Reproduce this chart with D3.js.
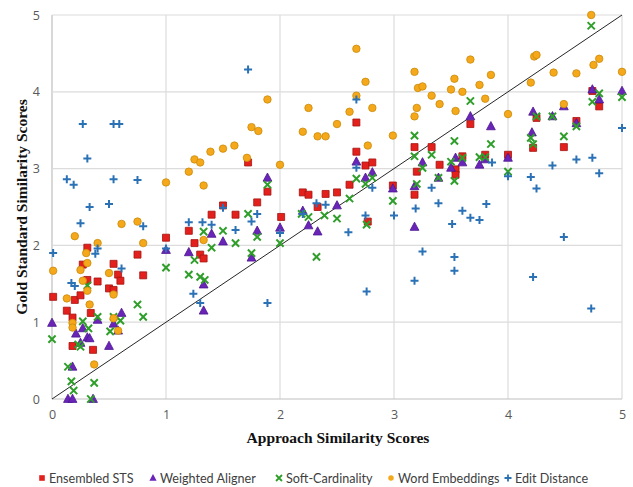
<!DOCTYPE html>
<html>
<head>
<meta charset="utf-8">
<script src="https://cdn.jsdelivr.net/npm/d3@7"></script>
<style>
  body { margin: 0; background: #fff; }
  svg { display: block; }
</style>
</head>
<body>
<script>
"use strict";

// Data: [approach score, gold score].
var ensembledSTS = [
  [0.01,1.33],[0.13,1.15],[0.18,1.06],[0.20,1.29],[0.25,1.35],[0.27,1.75],[0.31,1.97],[0.31,1.55],
  [0.34,1.12],[0.40,1.53],[0.54,1.76],[0.58,1.62],[0.60,1.54],[0.50,1.44],[0.54,1.42],[0.75,1.88],
  [0.80,1.61],[0.18,0.69],[0.36,0.64],[1.00,2.10],[1.20,2.19],[1.25,2.03],[1.30,1.88],[1.33,1.83],
  [1.40,2.40],[1.50,2.52],[1.61,2.40],[1.80,2.56],[1.89,2.70],[1.72,3.08],[2.01,2.37],[2.20,2.69],
  [2.25,2.66],[2.40,2.67],[2.50,2.69],[2.61,2.79],[2.67,3.60],[2.67,3.22],[2.75,3.04],[2.81,3.08],
  [2.99,2.78],[3.18,3.28],[3.20,2.96],[3.18,2.66],[2.33,2.50],[2.77,2.31],[3.33,3.28],[3.40,3.05],
  [3.54,2.99],[3.54,2.92],[3.60,3.16],[3.67,3.58],[3.80,3.18],[4.00,3.18],[4.22,3.27],[4.25,3.66],
  [4.49,3.28],[4.60,3.62],[4.80,3.81],[4.74,4.01]
];
var weightedAligner = [
  [0.00,0.99],[0.14,0.00],[0.18,0.00],[0.36,0.00],[0.18,0.42],[0.21,0.85],[0.27,0.92],[0.25,0.73],
  [0.31,0.80],[0.33,0.79],[0.40,1.03],[0.50,0.69],[0.54,0.98],[0.58,0.89],[0.61,1.12],[1.00,1.94],
  [1.20,1.91],[1.33,1.15],[1.33,1.49],[1.40,2.15],[1.50,2.05],[1.80,2.19],[1.75,1.84],[2.00,2.23],
  [2.20,2.45],[2.25,2.26],[2.33,2.18],[2.50,2.52],[3.18,2.24],[1.89,2.88],[2.67,3.09],[2.75,2.88],
  [2.81,2.95],[2.99,2.74],[3.18,2.77],[3.25,3.08],[3.39,2.88],[3.50,3.01],[3.54,3.14],[3.67,3.68],
  [3.85,3.55],[3.60,3.08],[3.75,3.05],[3.80,3.12],[4.00,3.14],[4.21,3.47],[4.22,3.74],[4.39,3.68],
  [4.49,3.81],[4.60,3.59],[4.74,4.03],[4.80,3.90],[5.00,4.01]
];
var softCardinality = [
  [0.00,0.78],[0.14,0.42],[0.17,0.23],[0.19,0.11],[0.34,0.00],[0.37,0.21],[0.27,1.01],[0.32,0.92],
  [0.23,0.71],[0.25,0.68],[0.40,1.07],[0.54,1.07],[0.51,0.88],[0.60,1.02],[0.75,1.23],[0.80,1.07],
  [0.31,1.48],[1.00,1.71],[1.20,1.62],[1.25,1.81],[1.30,1.59],[1.34,1.55],[1.33,2.18],[1.40,1.97],
  [1.50,2.19],[1.61,2.03],[1.72,2.41],[1.75,1.90],[1.80,2.11],[2.00,2.03],[2.19,2.41],[2.25,2.37],
  [2.39,2.39],[2.50,2.35],[2.32,1.85],[2.76,2.27],[2.99,2.58],[1.89,2.79],[2.61,2.61],[2.67,2.87],
  [2.75,2.80],[2.81,2.88],[3.18,3.43],[3.18,3.16],[3.33,3.18],[3.20,2.80],[3.25,3.01],[3.39,2.88],
  [3.50,3.09],[3.53,3.36],[3.53,2.84],[3.67,3.88],[3.85,3.32],[3.60,3.14],[3.75,3.15],[3.80,3.15],
  [4.00,2.96],[4.20,3.40],[4.22,3.32],[4.25,3.68],[4.39,3.68],[4.49,3.42],[4.60,3.55],[4.73,4.86],
  [4.80,3.98],[4.74,3.87],[5.00,3.93]
];
var wordEmbeddings = [
  [0.01,1.67],[0.20,2.12],[0.40,2.03],[0.61,2.28],[0.75,2.31],[0.80,2.03],[0.25,1.68],[0.31,1.77],
  [0.27,1.54],[0.31,1.41],[0.13,1.31],[0.33,1.23],[0.50,1.64],[0.54,1.36],[0.54,1.05],[0.58,0.89],
  [0.18,0.99],[0.18,0.93],[0.37,0.45],[1.33,2.07],[0.30,1.90],[1.00,2.82],[1.20,2.96],[1.25,3.12],
  [1.30,3.08],[1.39,3.22],[1.33,2.78],[2.67,4.56],[3.18,4.26],[2.75,4.13],[2.67,3.95],[3.21,4.05],
  [1.89,3.90],[2.25,3.79],[2.81,3.79],[2.61,3.74],[3.20,3.79],[3.18,3.68],[2.50,3.58],[1.75,3.54],
  [1.81,3.49],[2.20,3.48],[2.33,3.42],[2.40,3.42],[2.99,3.43],[2.77,3.30],[1.60,3.30],[1.50,3.26],
  [1.71,3.14],[2.00,3.05],[4.73,5.00],[3.67,4.42],[4.23,4.46],[4.25,4.48],[4.80,4.43],[4.75,4.35],
  [3.85,4.22],[3.53,4.17],[3.25,4.07],[3.75,4.09],[3.50,4.03],[3.60,4.00],[4.20,4.12],[4.40,4.25],
  [4.60,4.24],[5.00,4.26],[3.33,3.95],[3.80,3.91],[3.40,3.84],[3.54,3.75],[4.00,3.71],[4.49,3.84]
];
var editDistance = [
  [0.27,3.58],[0.54,3.58],[0.59,3.58],[0.31,3.13],[0.13,2.86],[0.19,2.79],[0.54,2.86],[0.75,2.85],
  [0.33,2.50],[0.50,2.54],[0.01,1.90],[0.25,2.29],[0.80,2.25],[0.17,1.51],[0.20,1.47],[0.38,1.89],
  [0.40,1.96],[0.61,1.70],[1.00,1.96],[1.20,2.30],[1.32,2.30],[1.40,2.27],[1.61,2.20],[1.80,2.41],
  [1.75,2.31],[2.00,2.16],[2.20,2.41],[1.24,1.37],[1.30,1.25],[1.89,1.25],[1.72,4.29],[2.67,3.90],
  [2.67,3.01],[2.32,2.55],[2.40,2.53],[2.81,2.75],[1.50,2.49],[2.75,2.39],[2.60,2.17],[3.00,2.39],
  [3.19,2.48],[2.76,1.40],[3.18,1.54],[3.33,2.75],[3.39,2.55],[3.51,2.28],[3.25,1.92],[3.53,1.85],
  [3.53,1.67],[3.86,3.08],[4.00,2.90],[4.20,2.89],[4.25,2.74],[4.39,3.04],[4.60,3.12],[4.74,3.14],
  [4.80,2.94],[5.00,3.53],[3.60,2.45],[3.67,2.36],[3.75,2.33],[3.81,2.54],[4.49,2.11],[4.22,1.59],
  [4.73,1.18]
];

var tickValues = [0, 1, 2, 3, 4, 5];
var xTitle = "Approach Similarity Scores";
var yTitle = "Gold Standard Similarity Scores";

// Series drawn in legend order (later ones sit on top).
var series = [
  {name: "Ensembled STS",    data: ensembledSTS,    shape: "square",   fill: "#e3201b", stroke: "#a51410"},
  {name: "Weighted Aligner", data: weightedAligner, shape: "triangle", fill: "#6a25b8", stroke: "#4b1590"},
  {name: "Soft-Cardinality", data: softCardinality, shape: "times",    fill: "none",    stroke: "#2f9e2a"},
  {name: "Word Embeddings",  data: wordEmbeddings,  shape: "circle",   fill: "#f5a819", stroke: "#c98a0c"},
  {name: "Edit Distance",    data: editDistance,    shape: "plus",     fill: "none",    stroke: "#2a72b5"}
];

var width = 633, height = 487;
var plot = {left: 52, right: 622, top: 15, bottom: 399};

var x = d3.scaleLinear().domain([0, 5]).range([plot.left, plot.right]);
var y = d3.scaleLinear().domain([0, 5]).range([plot.bottom, plot.top]);

var svg = d3.select("body").append("svg")
  .attr("width", width)
  .attr("height", height);

// Grid lines.
svg.append("g")
  .selectAll("line.vgrid")
  .data(tickValues)
  .enter().append("line")
  .attr("x1", function(d) { return x(d); })
  .attr("x2", function(d) { return x(d); })
  .attr("y1", y(0))
  .attr("y2", y(5))
  .attr("stroke", function(d) { return d === 0 ? "#bfbfbf" : "#dcdcdc"; })
  .attr("stroke-width", 1.2);

svg.append("g")
  .selectAll("line.hgrid")
  .data(tickValues)
  .enter().append("line")
  .attr("x1", x(0))
  .attr("x2", x(5))
  .attr("y1", function(d) { return y(d); })
  .attr("y2", function(d) { return y(d); })
  .attr("stroke", function(d) { return d === 0 ? "#bfbfbf" : "#dcdcdc"; })
  .attr("stroke-width", 1.2);

// Axes with labels only (grid already drawn).
var xAxis = svg.append("g")
  .attr("transform", "translate(0," + (plot.bottom + 8) + ")")
  .call(d3.axisBottom(x).tickValues(tickValues).tickSize(0).tickPadding(3).tickFormat(d3.format("d")));
var yAxis = svg.append("g")
  .attr("transform", "translate(" + (plot.left - 9) + ",0)")
  .call(d3.axisLeft(y).tickValues(tickValues).tickSize(0).tickPadding(3).tickFormat(d3.format("d")));
[xAxis, yAxis].forEach(function(ax) {
  ax.select(".domain").remove();
  ax.selectAll("text")
    .attr("fill", "#595959")
    .style("font-family", "'Open Sans', 'DejaVu Sans', sans-serif")
    .style("font-size", "12.5px");
});

// y = x reference line.
svg.append("line")
  .attr("x1", x(0)).attr("y1", y(0))
  .attr("x2", x(5)).attr("y2", y(5))
  .attr("stroke", "#262626")
  .attr("stroke-width", 1);

// Marker paths, centred at 0,0.
function markerPath(shape) {
  switch (shape) {
    case "square":   return "M-3.5,-3.5H3.5V3.5H-3.5Z";
    case "triangle": return "M0,-4.8L4.4,3.4H-4.4Z";
    case "times":    return "M-3.6,-3.6L3.6,3.6M-3.6,3.6L3.6,-3.6";
    case "plus":     return "M-4,0H4M0,-4V4";
    default:         return d3.symbol().type(d3.symbolCircle).size(44)();
  }
}

series.forEach(function(s) {
  svg.append("g")
    .selectAll("path")
    .data(s.data)
    .enter().append("path")
    .attr("transform", function(d) { return "translate(" + x(d[0]) + "," + y(d[1]) + ")"; })
    .attr("d", markerPath(s.shape))
    .attr("fill", s.fill)
    .attr("stroke", s.stroke)
    .attr("stroke-width", (s.shape === "times" || s.shape === "plus") ? 2 : 0.8);
});

// Axis titles.
svg.append("text")
  .attr("x", (plot.left + plot.right) / 2 + 1)
  .attr("y", 443)
  .attr("text-anchor", "middle")
  .style("font-family", "'Liberation Serif', 'Times New Roman', serif")
  .style("font-weight", "bold")
  .style("font-size", "15.5px")
  .attr("fill", "#111")
  .text(xTitle);

svg.append("text")
  .attr("transform", "translate(27,207) rotate(-90)")
  .attr("text-anchor", "middle")
  .style("font-family", "'Liberation Serif', 'Times New Roman', serif")
  .style("font-weight", "bold")
  .style("font-size", "15.5px")
  .attr("fill", "#111")
  .text(yTitle);

// Legend along the bottom.
var legendX = [42, 153, 279, 391, 508];
var legend = svg.append("g")
  .selectAll("g")
  .data(series)
  .enter().append("g")
  .attr("transform", function(d, i) { return "translate(" + legendX[i] + ",478)"; });

legend.append("path")
  .attr("d", function(d) {
    if (d.shape === "circle") return d3.symbol().type(d3.symbolCircle).size(24)();
    if (d.shape === "square") return "M-2.8,-2.8H2.8V2.8H-2.8Z";
    if (d.shape === "triangle") return "M0,-4L3.6,2.8H-3.6Z";
    if (d.shape === "times") return "M-3,-3L3,3M-3,3L3,-3";
    return "M-3.5,0H3.5M0,-3.5V3.5";
  })
  .attr("fill", function(d) { return d.fill; })
  .attr("stroke", function(d) { return d.fill === "none" ? d.stroke : "none"; })
  .attr("stroke-width", 1.8);

legend.append("text")
  .attr("x", 7)
  .attr("y", 4.5)
  .style("font-family", "Lato, 'Open Sans', sans-serif")
  .style("font-size", "12.6px")
  .attr("fill", "#404040")
  .text(function(d) { return d.name; });
</script>
</body>
</html>
